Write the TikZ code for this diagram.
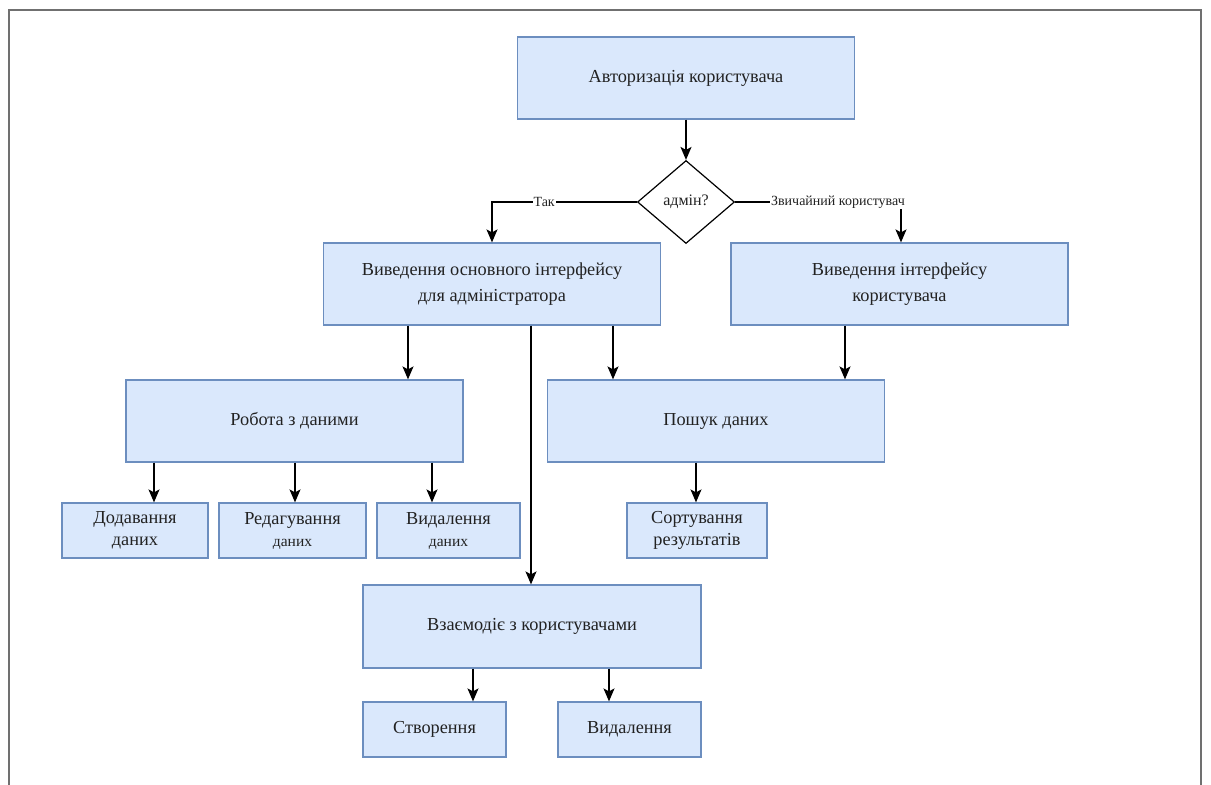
\documentclass[tikz,border=0pt]{standalone}
\usepackage{fontspec}
\setmainfont{Liberation Serif}
\usetikzlibrary{shapes.geometric,arrows.meta,calc}
\definecolor{boxfill}{HTML}{DAE8FC}
\definecolor{boxline}{HTML}{6C8EBF}
\definecolor{txt}{HTML}{222222}
\definecolor{framec}{HTML}{707070}
\tikzset{
  bx/.style={draw=boxline,fill=boxfill,line width=1.2pt,inner sep=0pt,
    align=center,text=txt,font=\fontsize{18.3}{26}\selectfont},
  bigbx/.style={bx,minimum width=337pt,minimum height=82pt},
  smallbx/.style={bx,minimum height=55pt,font=\fontsize{18.3}{22}\selectfont},
  arr/.style={draw=black,line width=1.5pt,-{Stealth[length=13pt,width=11pt,inset=3pt]}},
  lbl/.style={fill=white,inner sep=1pt,text=txt,font=\fontsize{14}{16}\selectfont},
  dia/.style={draw=black,fill=white,line width=1.2pt,shape=diamond,inner sep=0pt,
    minimum width=97pt,minimum height=83pt,aspect=1.17,text=txt,font=\fontsize{16}{18}\selectfont}
}
\begin{document}
\begin{tikzpicture}[x=1pt,y=-1pt]
\useasboundingbox (0,0) rectangle (1211,785);
\draw[framec,line width=2pt] (9,785) -- (9,10) -- (1201,10) -- (1201,785);

\node[bigbx] (auth) at (686,78) {Авторизація користувача};
\node[dia] (dia) at (686,202) {адмін?};
\node[bigbx] (admin) at (492,284) {Виведення основного інтерфейсу\\для адміністратора};
\node[bigbx] (user) at (899.5,284) {Виведення інтерфейсу\\користувача};
\node[bigbx] (rob) at (294.5,421) {Робота з даними};
\node[bigbx] (poisk) at (716,421) {Пошук даних};
\node[smallbx,minimum width=146pt] (dod) at (135,530.5) {Додавання\\даних};
\node[smallbx,minimum width=147pt] (red) at (292.5,530.5) {Редагування\\{\fontsize{15.5}{18}\selectfont даних}};
\node[smallbx,minimum width=143pt] (vyd) at (448.5,530.5) {Видалення\\{\fontsize{15.5}{18}\selectfont даних}};
\node[smallbx,minimum width=140pt] (sort) at (697,530.5) {Сортування\\результатів};
\node[bigbx,minimum width=338pt,minimum height=83pt] (vz) at (532,626.5) {Взаємодіє з користувачами};
\node[smallbx,minimum width=143pt] (stv) at (434.5,729.5) {Створення};
\node[smallbx,minimum width=143pt] (vyd2) at (629.5,729.5) {Видалення};

\draw[arr] (auth.south) -- (dia.north);
\draw[arr] (dia.west) -| node[lbl,pos=0.32]{Так} (admin.north);
\draw[arr] (dia.east) -| node[lbl,pos=0.31]{Звичайний користувач} ([xshift=1.5pt]user.north);

\draw[arr] ([xshift=-84pt]admin.south) -- ([xshift=-84pt]admin.south |- rob.north);
\draw[arr] ([xshift=121pt]admin.south) -- ([xshift=121pt]admin.south |- poisk.north);
\draw[arr] ([xshift=39pt]admin.south) -- ([xshift=39pt]admin.south |- vz.north);
\draw[arr] ([xshift=-54.5pt]user.south) -- ([xshift=-54.5pt]user.south |- poisk.north);

\draw[arr] ([xshift=-140.5pt]rob.south) -- ([xshift=-140.5pt]rob.south |- dod.north);
\draw[arr] ([xshift=0.5pt]rob.south) -- ([xshift=0.5pt]rob.south |- red.north);
\draw[arr] ([xshift=137.5pt]rob.south) -- ([xshift=137.5pt]rob.south |- vyd.north);
\draw[arr] ([xshift=-20pt]poisk.south) -- ([xshift=-20pt]poisk.south |- sort.north);
\draw[arr] ([xshift=-59pt]vz.south) -- ([xshift=-59pt]vz.south |- stv.north);
\draw[arr] ([xshift=77pt]vz.south) -- ([xshift=77pt]vz.south |- vyd2.north);
\end{tikzpicture}
\end{document}
